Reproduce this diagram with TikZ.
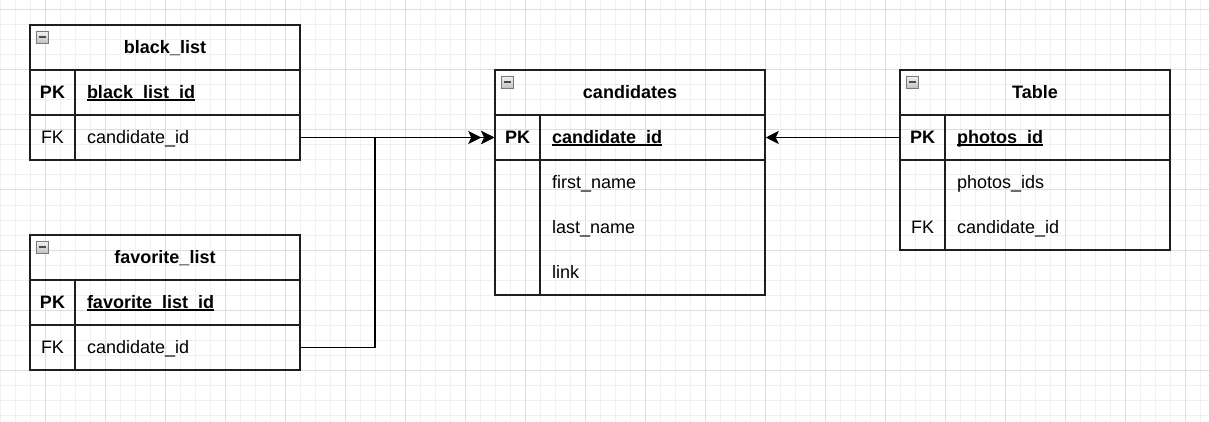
\documentclass[tikz,border=0pt]{standalone}
\usepackage{fontspec}
\setmainfont{Liberation Sans}
\usetikzlibrary{arrows.meta}

\definecolor{cor_grade}{HTML}{F0F0F0}
\definecolor{cor_grade_forte}{HTML}{DDDDDD}
\definecolor{cor_borda}{HTML}{1E1E1E}
\definecolor{cor_icone}{HTML}{7A7A7A}

\newcommand{\fonte}{\fontsize{18pt}{21pt}\selectfont}
\newcommand{\chave}[1]{\setbox0\hbox{#1}\rlap{\rule[-2.5pt]{\wd0}{1.3pt}}\box0}

\begin{document}
\begin{tikzpicture}[x=1pt, y=-1pt, font=\fonte]
        \tikzset{
            tabela/.style={
                draw=cor_borda,
                line width=1.5pt,
                minimum width=270pt,
                minimum height=45pt,
                text height=14pt,
                text depth=2.5pt,
                font=\fonte\bfseries
            },
            chavebox/.style={
                draw=cor_borda,
                line width=1.5pt,
                minimum width=45pt,
                minimum height=#1,
                text height=14pt,
                text depth=2.5pt,
                inner sep=0pt
            },
            chavebox/.default=45pt,
            campo/.style={
                draw=cor_borda,
                line width=1.5pt,
                minimum width=225pt,
                minimum height=#1,
                text width=201pt,
                text height=14pt,
                text depth=2.5pt,
                inner xsep=12pt,
                align=left
            },
            campo/.default=45pt,
            campotxt/.style={
                minimum width=225pt,
                text width=201pt,
                text height=14pt,
                text depth=2.5pt,
                inner xsep=12pt,
                align=left
            },
            icone/.style={
                draw=cor_icone,
                line width=0.8pt,
                top color=gray!10,
                bottom color=gray!50,
                minimum size=12.5pt,
                inner sep=0pt,
                path picture={
                    \draw[black!70, line width=1.8pt]
                        ([xshift=-3.5pt]path picture bounding box.center) --
                        ([xshift=3.5pt]path picture bounding box.center);
                }
            },
            rel/.style={
                draw=black,
                line width=1.5pt
            },
            ponta/.style={
                -{Stealth[length=13pt, width=13pt, inset=3pt]}
            }
        }
        \useasboundingbox (0,0) rectangle (1209,422);
        \fill[white] (0,0) rectangle (1209,422);
        \draw[cor_grade, line width=1pt, shift={(0,10)}, step=15pt] (0,412) grid (1209,-10);
        \draw[cor_grade_forte, line width=1pt, shift={(45,10)}, step=60pt] (-45,412) grid (1164,-10);


        %black_list
        \node[tabela] (bl) at (165,47.5) {black\_list};
        \node[icone] (blicone) at ([shift={(13,13)}]bl.north west) {};
        \node[chavebox, font=\fonte\bfseries] (blpkk) at (52.5,92.5) {PK};
        \node[campo, font=\fonte\bfseries] (blpk) at (187.5,92.5) {\chave{black\_list\_id}};
        \node[chavebox] (blfkk) at (52.5,137.5) {FK};
        \node[campo] (blfk) at (187.5,137.5) {candidate\_id};

        %favorite_list
        \node[tabela] (fl) at (165,257.5) {favorite\_list};
        \node[icone] (flicone) at ([shift={(13,13)}]fl.north west) {};
        \node[chavebox, font=\fonte\bfseries] (flpkk) at (52.5,302.5) {PK};
        \node[campo, font=\fonte\bfseries] (flpk) at (187.5,302.5) {\chave{favorite\_list\_id}};
        \node[chavebox] (flfkk) at (52.5,347.5) {FK};
        \node[campo] (flfk) at (187.5,347.5) {candidate\_id};

        %candidates
        \node[tabela] (cd) at (630,92.5) {candidates};
        \node[icone] (cdicone) at ([shift={(13,13)}]cd.north west) {};
        \node[chavebox, font=\fonte\bfseries] (cdpkk) at (517.5,137.5) {PK};
        \node[campo, font=\fonte\bfseries] (cdpk) at (652.5,137.5) {\chave{candidate\_id}};
        \node[chavebox=135pt] (cdcorpok) at (517.5,227.5) {};
        \node[campo=135pt] (cdcorpo) at (652.5,227.5) {};
        \node[campotxt] (cdfirst) at (652.5,182.5) {first\_name};
        \node[campotxt] (cdlast) at (652.5,227.5) {last\_name};
        \node[campotxt] (cdlink) at (652.5,272.5) {link};

        %Table
        \node[tabela] (tb) at (1035,92.5) {Table};
        \node[icone] (tbicone) at ([shift={(13,13)}]tb.north west) {};
        \node[chavebox, font=\fonte\bfseries] (tbpkk) at (922.5,137.5) {PK};
        \node[campo, font=\fonte\bfseries] (tbpk) at (1057.5,137.5) {\chave{photos\_id}};
        \node[chavebox=90pt] (tbcorpok) at (922.5,205) {};
        \node[campo=90pt] (tbcorpo) at (1057.5,205) {};
        \node[text height=14pt, text depth=2.5pt] (tbfkk) at (922.5,227.5) {FK};
        \node[campotxt] (tbphotos) at (1057.5,182.5) {photos\_ids};
        \node[campotxt] (tbfk) at (1057.5,227.5) {candidate\_id};

        %ligacoes
        \coordinate (juncao) at (375,137.5);
        \draw[rel, -{Stealth[length=13pt, width=13pt, inset=3pt] Stealth[length=13pt, width=13pt, inset=3pt]}] (blfk.east) -- (cdpkk.west);
        \draw[rel, ponta] (flfk.east) -| (juncao) -- (cdpkk.west);
        \draw[rel, ponta] (tbpkk.west) -- (cdpk.east);

    \end{tikzpicture}
\end{document}
